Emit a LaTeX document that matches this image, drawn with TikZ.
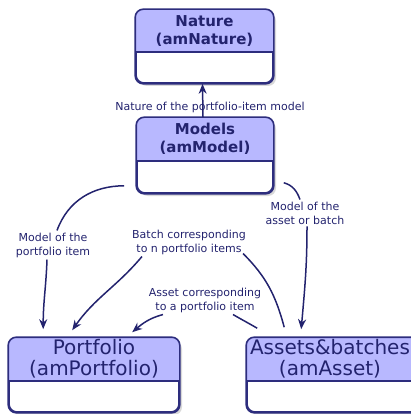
\documentclass[tikz,border=0pt]{standalone}
\usepackage{fontspec}
\setmainfont{DejaVu Sans}
\usetikzlibrary{arrows.meta,shadows}
\definecolor{navy}{RGB}{35,35,110}
\definecolor{boxline}{RGB}{45,45,125}
\definecolor{headblue}{RGB}{184,184,255}

\begin{document}
\begin{tikzpicture}
    [x=1pt,y=-1pt,
     ent/.style={draw=boxline, line width=1.6pt, fill=white, rounded corners=8pt, inner sep=0pt,
       drop shadow={shadow xshift=3pt, shadow yshift=-3pt, opacity=.3}},
     title/.style={text=navy, font=\fontsize{15}{18}\selectfont\bfseries, align=center},
     bigtitle/.style={text=navy, font=\fontsize{20}{21}\selectfont, align=center},
     lbl/.style={text=navy, font=\fontsize{11}{14}\selectfont, align=center, inner sep=2pt},
     link/.style={draw=navy, line width=1.5pt},
     arr/.style={-{Stealth[length=10pt,width=8pt]}}]
  \useasboundingbox (0,0) rectangle (410,414);

  \node[ent, minimum width=137pt, minimum height=73pt] (nature) at (204.5,46.5) {};
  \node[ent, minimum width=136pt, minimum height=75pt] (models) at (205,155.5) {};
  \node[ent, minimum width=170pt, minimum height=74pt] (portfolio) at (94,375) {};
  \node[ent, minimum width=180pt, minimum height=74pt] (assets) at (337,375) {};

  \foreach \n/\h in {nature/43, models/44, portfolio/44, assets/44} {
    \begin{scope}
      \clip[rounded corners=8pt] (\n.north west) rectangle (\n.south east);
      \fill[headblue] (\n.north west) rectangle ([yshift=-\h pt]\n.north east);
    \end{scope}
    \draw[boxline, line width=1.6pt] ([yshift=-\h pt]\n.north west) -- ([yshift=-\h pt]\n.north east);
    \draw[boxline, line width=1.6pt, rounded corners=8pt] (\n.north west) rectangle (\n.south east);
  }

  \node[title] (natureT) at ([yshift=-21.5pt]nature.north) {Nature\\(amNature)};
  \node[title] (modelsT) at ([yshift=-22pt]models.north) {Models\\(amModel)};
  \node[bigtitle] (portfolioT) at ([yshift=-22pt]portfolio.north) {Portfolio\\(amPortfolio)};
  \node[bigtitle] (assetsT) at ([shift={(-7pt,-22pt)}]assets.north) {Assets\&batches\\(amAsset)};

  \node[lbl] (natlbl) at (210,107) {Nature of the portfolio-item model};
  \node[lbl] (pflbl) at (53,245) {Model of the\\portfolio item};
  \node[lbl] (aslbl) at (305,213) {Model of the\\asset or batch};
  \node[lbl] (batchlbl) at (189,242) {Batch corresponding\\to n portfolio items};
  \node[lbl] (assetlbl) at (205,300) {Asset corresponding\\to a portfolio item};

  \draw[link,arr] ([xshift=-2pt]models.north) -- ([xshift=-2pt]nature.south);

  \draw[link] ([shift={(-12pt,8pt)}]models.south west) to[out=180,in=70] ([xshift=4pt]pflbl.north);
  \draw[link,arr] ([xshift=-6pt]pflbl.south) to[out=-92,in=90] ([shift={(35pt,8pt)}]portfolio.north west);

  \draw[link] ([shift={(10pt,11pt)}]models.south east) to[out=-15,in=110] ([xshift=-5pt]aslbl.north);
  \draw[link,arr] ([xshift=2pt]aslbl.south) to[out=-90,in=85] ([shift={(55pt,8pt)}]assets.north west);

  \draw[link] ([shift={(38pt,10pt)}]assets.north west) to[out=105,in=-45] ([shift={(-5pt,3pt)}]batchlbl.south east);
  \draw[link,arr] ([xshift=12pt]batchlbl.south west) to[out=-130,in=55] ([shift={(64pt,7pt)}]portfolio.north west);

  \draw[link] ([shift={(11pt,9pt)}]assets.north west) to[out=150,in=-30] ([xshift=28pt]assetlbl.south);
  \draw[link,arr] ([xshift=-42pt]assetlbl.south) to[out=-165,in=40] ([shift={(124pt,5pt)}]portfolio.north west);
\end{tikzpicture}
\end{document}
